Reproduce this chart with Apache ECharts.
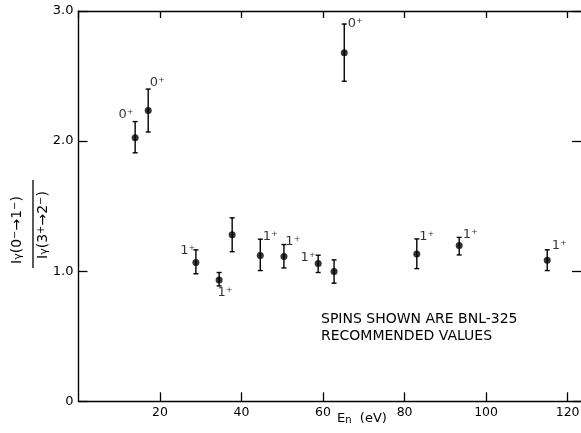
<!DOCTYPE html>
<html>
<head>
<meta charset="utf-8">
<script src="https://cdn.jsdelivr.net/npm/echarts@6/dist/echarts.min.js"></script>
<style>
  html, body { margin: 0; padding: 0; background: #fff; }
  #chart { width: 581px; height: 433px; }
</style>
</head>
<body>
<div id="chart"></div>
<script>
// neutron energy (eV) and intensity ratio, with error bar ends
const energies = [13.9, 17.1, 28.8, 34.5, 37.7, 44.6, 50.4, 58.8, 62.7, 65.2, 83.0, 93.4, 115.0];
const ratios   = [2.025, 2.235, 1.066, 0.933, 1.28, 1.12, 1.113, 1.059, 0.997, 2.68, 1.133, 1.197, 1.085];
const errLow   = [1.91, 2.07, 0.98, 0.887, 1.15, 1.005, 1.025, 0.99, 0.908, 2.46, 1.02, 1.125, 1.005];
const errHigh  = [2.15, 2.40, 1.164, 0.99, 1.41, 1.246, 1.205, 1.123, 1.087, 2.90, 1.248, 1.26, 1.164];
const spins    = ['0⁺', '0⁺', '1⁺', '1⁺', '', '1⁺', '1⁺', '1⁺', '', '0⁺', '1⁺', '1⁺', '1⁺'];
const xTicks   = [20, 40, 60, 80, 100, 120];
const yTicks   = [0, 1, 2, 3];

// where each spin label sits relative to its point (px)
const labelOffsets = [[-9, -23], [9, -28], [-8, -12], [6, 13], [0, 0], [10, -19],
  [9, -15], [-10, -6], [0, 0], [11, -29], [10, -17], [11, -11], [12, -15]];

const font = 'DejaVu Sans';
const ink = '#000';

const chart = echarts.init(document.getElementById('chart'));

const points = energies.map((e, i) => ({
  value: [e, ratios[i]],
  label: {
    show: spins[i] !== '',
    formatter: spins[i],
    offset: labelOffsets[i]
  }
}));

const bars = energies.map((e, i) => [e, errLow[i], errHigh[i]]);

function tick(len) {
  return { show: true, inside: true, length: len, lineStyle: { color: ink, width: 1.3 } };
}

const lineStyle = { show: true, onZero: false, lineStyle: { color: ink, width: 1.4 } };

const option = {
  animation: false,
  backgroundColor: '#fff',
  // plot frame runs a little past the right edge of the page, as in the scan
  grid: { left: 78.5, top: 11, right: -7, bottom: 31.7, outerBoundsMode: 'none' },
  xAxis: [
    {
      type: 'value', min: 0, max: 125, interval: 20,
      position: 'bottom',
      splitLine: { show: false },
      axisLine: lineStyle,
      axisTick: tick(9),
      axisLabel: {
        margin: 5, color: ink, fontFamily: font, fontSize: 12.5,
        showMinLabel: false, showMaxLabel: false,
        formatter: v => xTicks.includes(v) ? String(v) : ''
      }
    },
    {
      type: 'value', min: 0, max: 125, interval: 20,
      position: 'top',
      splitLine: { show: false },
      axisLine: lineStyle,
      axisTick: tick(7),
      axisLabel: { show: false }
    }
  ],
  yAxis: [
    {
      type: 'value', min: 0, max: 3, interval: 1,
      position: 'left',
      splitLine: { show: false },
      axisLine: lineStyle,
      axisTick: tick(9),
      axisLabel: {
        margin: 5, color: ink, fontFamily: font, fontSize: 13,
        formatter: v => yTicks.includes(v) ? (v === 0 ? '0' : v.toFixed(1)) : ''
      }
    },
    {
      type: 'value', min: 0, max: 3, interval: 1,
      position: 'right',
      splitLine: { show: false },
      axisLine: { show: false, onZero: false },
      axisTick: tick(16),
      axisLabel: { show: false }
    }
  ],
  series: [
    {
      type: 'custom',
      data: bars,
      renderItem: (params, api) => {
        const top = api.coord([api.value(0), api.value(2)]);
        const bot = api.coord([api.value(0), api.value(1)]);
        const cap = 2.5;
        const st = { stroke: ink, lineWidth: 1.4 };
        return {
          type: 'group',
          children: [
            { type: 'line', shape: { x1: top[0], y1: top[1], x2: bot[0], y2: bot[1] }, style: st },
            { type: 'line', shape: { x1: top[0] - cap, y1: top[1], x2: top[0] + cap, y2: top[1] }, style: st },
            { type: 'line', shape: { x1: bot[0] - cap, y1: bot[1], x2: bot[0] + cap, y2: bot[1] }, style: st }
          ]
        };
      },
      z: 2
    },
    {
      type: 'scatter',
      data: points,
      symbol: 'circle',
      symbolSize: 7,
      itemStyle: { color: ink },
      label: {
        position: 'inside',
        color: ink,
        fontFamily: font,
        fontSize: 13
      },
      z: 3
    }
  ],
  graphic: [
    // y axis title: ratio of the two gamma intensities
    {
      type: 'text',
      x: 17, y: 230, rotation: Math.PI / 2,
      style: {
        text: '{a|I}{g|γ}{a|(0}{s|−}{a|→1}{s|−}{a|)}',
        align: 'center', verticalAlign: 'middle',
        rich: {
          a: { fontFamily: font, fontSize: 14, fill: ink },
          g: { fontFamily: font, fontSize: 11, fill: ink, verticalAlign: 'bottom' },
          s: { fontFamily: font, fontSize: 10, fill: ink, verticalAlign: 'top' }
        }
      }
    },
    {
      type: 'line',
      shape: { x1: 33, y1: 180, x2: 33, y2: 268 },
      style: { stroke: ink, lineWidth: 1.3 }
    },
    {
      type: 'text',
      x: 43, y: 225, rotation: Math.PI / 2,
      style: {
        text: '{a|I}{g|γ}{a|(3}{s|+}{a|→2}{s|−}{a|)}',
        align: 'center', verticalAlign: 'middle',
        rich: {
          a: { fontFamily: font, fontSize: 14, fill: ink },
          g: { fontFamily: font, fontSize: 11, fill: ink, verticalAlign: 'bottom' },
          s: { fontFamily: font, fontSize: 10, fill: ink, verticalAlign: 'top' }
        }
      }
    },
    // x axis title
    {
      type: 'text',
      x: 337, y: 419,
      style: {
        text: '{a|E}{n|n}{a|  (eV)}',
        verticalAlign: 'middle',
        rich: {
          a: { fontFamily: font, fontSize: 13, fill: ink },
          n: { fontFamily: font, fontSize: 10, fill: ink, verticalAlign: 'bottom' }
        }
      }
    },
    {
      type: 'text',
      x: 321, y: 311,
      style: {
        text: 'SPINS SHOWN ARE BNL-325\nRECOMMENDED VALUES',
        fontFamily: font, fontSize: 14, fill: ink, lineHeight: 17
      }
    }
  ]
};

chart.setOption(option);
</script>
</body>
</html>
